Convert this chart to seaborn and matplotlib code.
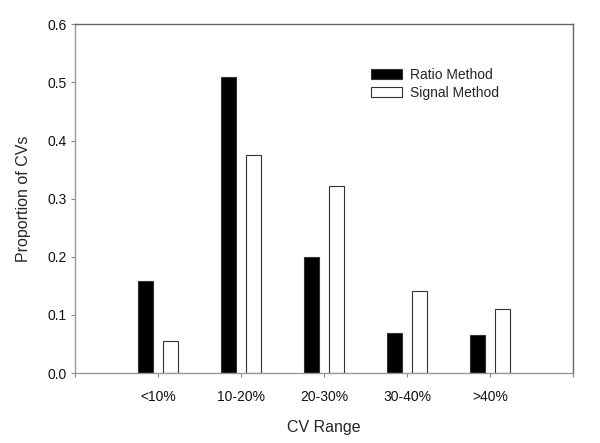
import matplotlib
matplotlib.use('Agg')
import matplotlib.pyplot as plt
import pandas as pd
import seaborn as sns
from matplotlib.ticker import FormatStrFormatter

ranges = ['<10%', '10-20%', '20-30%', '30-40%', '>40%']
ratio = [0.158, 0.510, 0.200, 0.069, 0.066]
signal = [0.055, 0.375, 0.321, 0.141, 0.111]
methods = ['Ratio Method', 'Signal Method']

df = pd.DataFrame({
    'range': ranges * 2,
    'prop': ratio + signal,
    'method': [methods[0]] * len(ranges) + [methods[1]] * len(ranges),
})

sns.set_style('ticks')
plt.rcParams['font.family'] = ['Liberation Sans', 'DejaVu Sans']

fig = plt.figure(figsize=(6, 4.43), dpi=100)
ax = fig.add_axes([0.125, 0.158, 0.83, 0.787])

sns.barplot(data=df, x='range', y='prop', hue='method', order=ranges,
            hue_order=methods, palette=['black', 'white'], saturation=1,
            width=0.6, gap=0.37, errorbar=None, edgecolor='#333333',
            linewidth=0.8, ax=ax)

ax.set_xlim(-1, 5)
ax.set_ylim(0, 0.6)
ax.set_xticks(range(-1, 6))
ax.set_xticklabels([''] + ranges + [''])
ax.set_yticks([0, 0.1, 0.2, 0.3, 0.4, 0.5, 0.6])
ax.yaxis.set_major_formatter(FormatStrFormatter('%.1f'))

ax.tick_params(axis='both', length=3, width=0.8, color='#888888', labelsize=10, labelcolor='#111111')
ax.tick_params(axis='x', pad=9)
ax.tick_params(axis='y', pad=3)

for s in ['left', 'bottom']:
    ax.spines[s].set_color('#999999')
for s in ['top', 'right']:
    ax.spines[s].set_color('#666666')
    ax.spines[s].set_visible(True)
for s in ax.spines.values():
    s.set_linewidth(1.0)

ax.set_xlabel('CV Range', fontsize=11.5, labelpad=12)
ax.set_ylabel('Proportion of CVs', fontsize=11.5, labelpad=12)

handles, labels = ax.get_legend_handles_labels()
ax.legend(handles, labels, loc='upper left', bbox_to_anchor=(0.594, 0.875),
          frameon=False, fontsize=10, borderpad=0, borderaxespad=0,
          handlelength=2.25, handleheight=0.75, handletextpad=0.6,
          labelspacing=0.3)

fig.savefig('out.png', dpi=100)
